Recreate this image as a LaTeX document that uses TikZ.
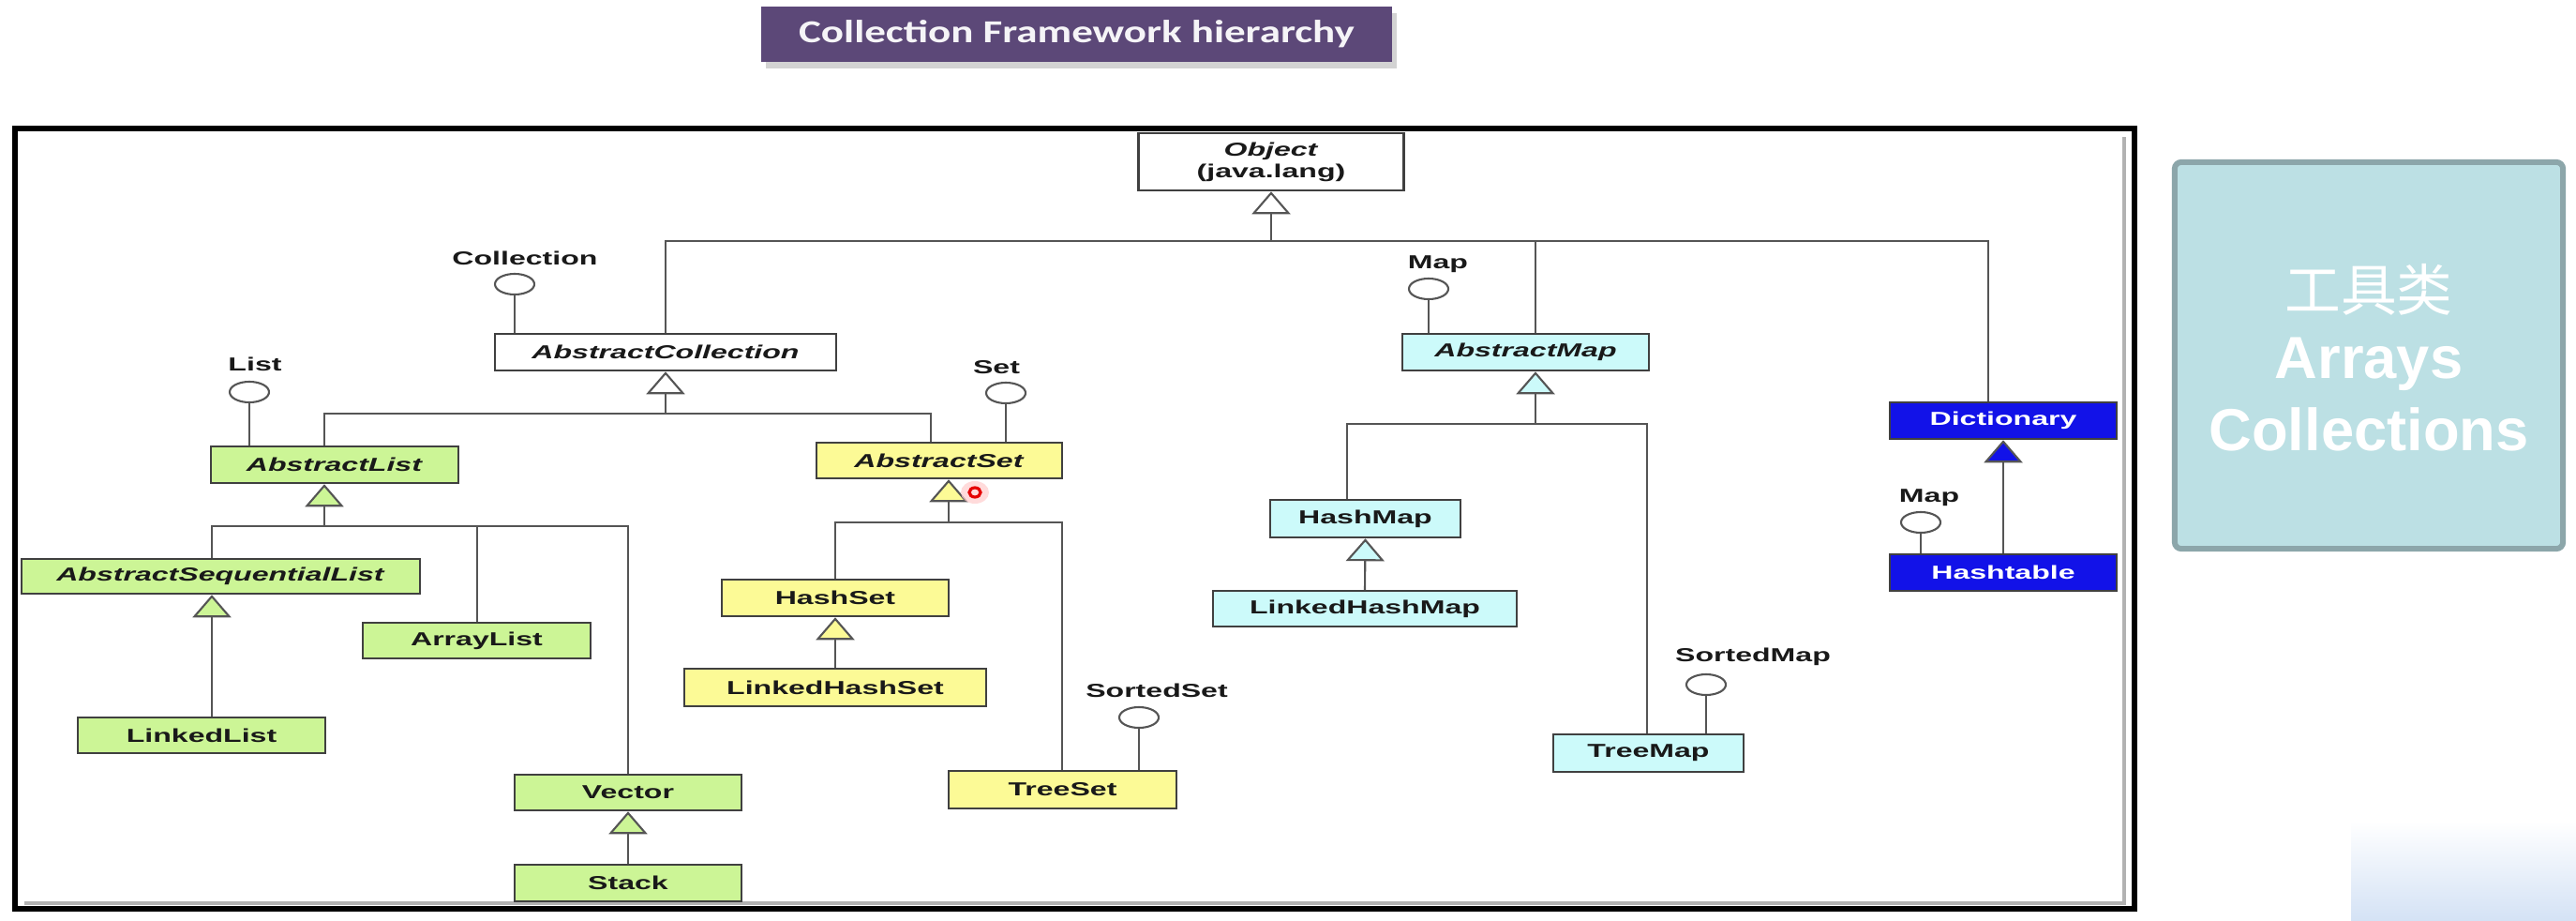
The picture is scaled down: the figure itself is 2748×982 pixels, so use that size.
\documentclass[tikz,border=0pt]{standalone}
\usepackage{graphicx}
\usepackage{fontspec}
\setmainfont{Liberation Sans}
\newfontfamily\titlefont{Carlito}
\newfontfamily\cjkfont{Noto Sans CJK SC}
\usetikzlibrary{arrows.meta,shapes.geometric,shadows}

\definecolor{listgreen}{RGB}{204,245,150}
\definecolor{setyellow}{RGB}{252,250,150}
\definecolor{mapcyan}{RGB}{204,250,250}
\definecolor{legacyblue}{RGB}{18,18,232}
\definecolor{boxline}{RGB}{64,64,64}
\definecolor{wire}{RGB}{85,85,85}
\definecolor{titlepurple}{RGB}{92,72,120}
\definecolor{toolfill}{RGB}{188,224,228}
\definecolor{tooledge}{RGB}{140,166,170}

\newcommand\stretchtxt[1]{\scalebox{1.6}[1]{#1}}
\newcommand\dfont{\fontsize{5.7pt}{6.6pt}\selectfont\bfseries}

\tikzset{
  cls/.style={draw=boxline, line width=0.7pt, inner sep=0pt, font=\dfont, text=black!90},
  lbl/.style={inner sep=0pt, font=\dfont, text=black!90, anchor=base},
  lolli/.style={ellipse, draw=wire, line width=0.6pt, fill=white, minimum width=0.42cm, minimum height=0.22cm, inner sep=0pt},
  wireline/.style={draw=wire, line width=0.6pt},
  gen/.style={wireline, -{Triangle[length=0.24cm, width=0.41cm, fill=#1]}},
  gen/.default=white,
}

\begin{document}
\begin{tikzpicture}[x=0.01cm, y=-0.01cm]
\useasboundingbox (0,0) rectangle (2748,982);

% slide title
\node[fill=titlepurple, minimum width=6.73cm, minimum height=0.59cm, inner sep=0pt,
  drop shadow={opacity=0.35, shadow xshift=0.05cm, shadow yshift=-0.07cm},
  text=white!94!titlepurple, font={\titlefont\fontsize{9.7pt}{11pt}\selectfont\bfseries}]
  (title) at (1148.5,36.5) {\scalebox{1.32}[1]{Collection Framework hierarchy}};

% frame round the diagram
\draw[line width=1.7pt] (16,137) rectangle (2277,969);
\draw[gray!60, line width=1.1pt] (26,963) -- (2266,963) -- (2266,146);

% classes
\node[cls, fill=white, minimum width=2.83cm, minimum height=0.61cm, align=center] (obj) at (1356,172.5)
  {\stretchtxt{\textit{Object}}\\\stretchtxt{(java.lang)}};
\node[cls, fill=white, minimum width=3.64cm, minimum height=0.39cm] (acoll) at (710,375.5) {\stretchtxt{\textit{AbstractCollection}}};
\node[cls, fill=listgreen, minimum width=2.64cm, minimum height=0.39cm] (alist) at (357,495.5) {\stretchtxt{\textit{AbstractList}}};
\node[cls, fill=setyellow, minimum width=2.62cm, minimum height=0.38cm] (aset) at (1002,491) {\stretchtxt{\textit{AbstractSet}}};
\node[cls, fill=mapcyan, minimum width=2.63cm, minimum height=0.39cm] (amap) at (1627.5,375.5) {\stretchtxt{\textit{AbstractMap}}};
\node[cls, fill=legacyblue, text=white, minimum width=2.42cm, minimum height=0.39cm] (dict) at (2137,448.5) {\stretchtxt{Dictionary}};
\node[cls, fill=legacyblue, text=white, minimum width=2.42cm, minimum height=0.39cm] (htable) at (2137,610.5) {\stretchtxt{Hashtable}};

\node[cls, fill=listgreen, minimum width=4.25cm, minimum height=0.37cm] (aseq) at (235.5,614.5) {\stretchtxt{\textit{AbstractSequentialList}}};
\node[cls, fill=listgreen, minimum width=2.64cm, minimum height=0.38cm] (llist) at (215,784) {\stretchtxt{LinkedList}};
\node[cls, fill=listgreen, minimum width=2.43cm, minimum height=0.38cm] (arrlist) at (508.5,683) {\stretchtxt{ArrayList}};
\node[cls, fill=listgreen, minimum width=2.42cm, minimum height=0.38cm] (vector) at (670,845) {\stretchtxt{Vector}};
\node[cls, fill=listgreen, minimum width=2.42cm, minimum height=0.39cm] (stack) at (670,941.5) {\stretchtxt{Stack}};

\node[cls, fill=setyellow, minimum width=2.42cm, minimum height=0.39cm] (hashset) at (891,637.5) {\stretchtxt{HashSet}};
\node[cls, fill=setyellow, minimum width=3.22cm, minimum height=0.40cm] (lhset) at (891,733) {\stretchtxt{LinkedHashSet}};
\node[cls, fill=setyellow, minimum width=2.43cm, minimum height=0.40cm] (treeset) at (1133.5,842) {\stretchtxt{TreeSet}};

\node[cls, fill=mapcyan, minimum width=2.03cm, minimum height=0.40cm] (hashmap) at (1456.5,553) {\stretchtxt{HashMap}};
\node[cls, fill=mapcyan, minimum width=3.24cm, minimum height=0.38cm] (lhmap) at (1456,649) {\stretchtxt{LinkedHashMap}};
\node[cls, fill=mapcyan, minimum width=2.03cm, minimum height=0.40cm] (treemap) at (1758.5,803) {\stretchtxt{TreeMap}};

% interfaces
\node[lolli] (icoll) at (549,303) {};
\node[lbl] at (560,282) {\stretchtxt{Collection}};
\node[lolli] (ilist) at (266,418) {};
\node[lbl] at (272,395) {\stretchtxt{List}};
\node[lolli] (iset) at (1073,419) {};
\node[lbl] at (1063,398) {\stretchtxt{Set}};
\node[lolli] (imap) at (1524,308) {};
\node[lbl] at (1534,286) {\stretchtxt{Map}};
\node[lolli] (isortset) at (1215,765) {};
\node[lbl] at (1234,743) {\stretchtxt{SortedSet}};
\node[lolli] (isortmap) at (1820,730) {};
\node[lbl] at (1870,705) {\stretchtxt{SortedMap}};
\node[lolli] (imaptwo) at (2049,557) {};
\node[lbl] at (2058,535) {\stretchtxt{Map}};

\draw[wireline] (icoll.south) -- (icoll.south |- acoll.north);
\draw[wireline] (ilist.south) -- (ilist.south |- alist.north);
\draw[wireline] (iset.south) -- (iset.south |- aset.north);
\draw[wireline] (imap.south) -- (imap.south |- amap.north);
\draw[wireline] (isortset.south) -- (isortset.south |- treeset.north);
\draw[wireline] (isortmap.south) -- (isortmap.south |- treemap.north);
\draw[wireline] (imaptwo.south) -- (imaptwo.south |- htable.north);

% inheritance under Object
\coordinate (objbus) at (1356,257);
\coordinate (mapdrop) at (1638,257);
\coordinate (dictdrop) at (2121,257);
\draw[gen] (objbus) -- (obj.south);
\draw[wireline] (acoll.north) |- (dictdrop) -- (dictdrop |- dict.north);
\draw[wireline] (mapdrop) -- (mapdrop |- amap.north);

% under AbstractCollection
\coordinate (collbus) at (710,441);
\coordinate (listdrop) at (346,441);
\coordinate (setdrop) at (993,441);
\draw[gen] (collbus) -- (acoll.south);
\draw[wireline] (listdrop |- alist.north) |- (setdrop) -- (setdrop |- aset.north);

% under AbstractList
\coordinate (alistbus) at (346,561);
\coordinate (seqdrop) at (226,561);
\coordinate (arrdrop) at (509,561);
\coordinate (vecdrop) at (670,561);
\draw[gen=listgreen] (alistbus) -- (alistbus |- alist.south);
\draw[wireline] (seqdrop |- aseq.north) |- (vecdrop) -- (vector.north);
\draw[wireline] (arrdrop) -- (arrdrop |- arrlist.north);
\draw[gen=listgreen] (llist.north -| seqdrop) -- (aseq.south -| seqdrop);
\draw[gen=listgreen] (stack.north) -- (vector.south);

% under AbstractSet
\coordinate (asetbus) at (1012,557);
\coordinate (tsdrop) at (1133,557);
\draw[gen=setyellow] (asetbus) -- (asetbus |- aset.south);
\draw[wireline] (hashset.north) |- (tsdrop) -- (tsdrop |- treeset.north);
\draw[gen=setyellow] (lhset.north) -- (hashset.south);

% under AbstractMap
\coordinate (amapbus) at (1638,452);
\coordinate (hmdrop) at (1437,452);
\coordinate (tmdrop) at (1757,452);
\draw[gen=mapcyan] (amapbus) -- (amapbus |- amap.south);
\draw[wireline] (hmdrop |- hashmap.north) |- (tmdrop) -- (tmdrop |- treemap.north);
\draw[gen=mapcyan] (lhmap.north) -- (hashmap.south);

% under Dictionary
\draw[gen=legacyblue] (htable.north) -- (dict.south);

% cursor mark
\node[ellipse, fill=red!20, opacity=0.7, minimum width=0.3cm, minimum height=0.24cm, inner sep=0pt] (cursorglow) at (1040,525) {};
\node[ellipse, draw=red!90!black, line width=0.9pt, minimum width=0.12cm, minimum height=0.1cm, inner sep=0pt] (cursor) at (1040,525) {};

% utility classes box
\node[draw=tooledge, line width=1.7pt, fill=toolfill, rounded corners=2pt, minimum width=4.14cm, minimum height=4.12cm] (tools) at (2527,379) {};
\node[text=white, font={\cjkfont\fontsize{17pt}{20pt}\selectfont}, anchor=base, inner sep=0pt] (toolcn) at (2527,331) {工具类};
\node[text=white, font={\fontsize{18pt}{20pt}\selectfont\bfseries}, anchor=base, inner sep=0pt] (toolarr) at (2527,403) {Arrays};
\node[text=white, font={\fontsize{18pt}{20pt}\selectfont\bfseries}, anchor=base, inner sep=0pt] (toolcol) at (2527,480) {Collections};

% slide corner decoration
\shade[top color=white, bottom color={rgb,255:red,212;green,226;blue,245}] (2508,875) rectangle (2748,982);
\end{tikzpicture}
\end{document}
